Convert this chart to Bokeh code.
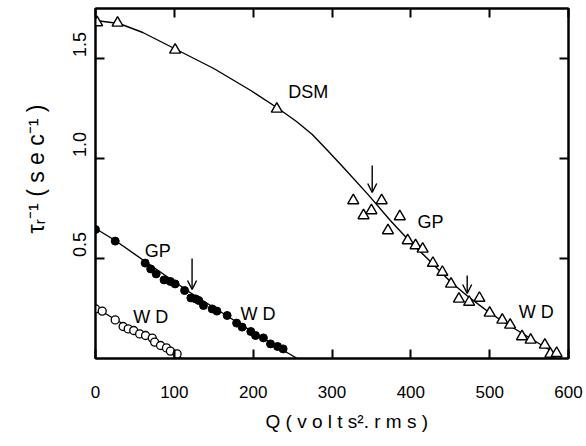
from bokeh.embed import file_html
from bokeh.models import (Arrow, CustomJSTickFormatter, FixedTicker, Label,
                          LinearAxis, OpenHead, Range1d, Title)
from bokeh.plotting import figure
from bokeh.resources import INLINE

FONT = "Liberation Sans"

# DSM regime, open triangles: Q (volts^2 rms) and relaxation rate (1/s)
dsm_q = [2, 28, 101, 230, 327, 340, 350, 363, 371, 386, 396, 406, 415, 428,
         440, 451, 461, 474, 487, 500, 516, 526, 541, 552, 570, 577, 585]
dsm_rate = [1.68, 1.678, 1.543, 1.248, 0.79, 0.715, 0.74, 0.79, 0.64, 0.71,
            0.59, 0.565, 0.548, 0.477, 0.432, 0.373, 0.298, 0.282, 0.302,
            0.228, 0.193, 0.168, 0.11, 0.093, 0.068, 0.023, 0.026]
dsm_fit_q = [0, 30, 60, 100, 150, 197, 230, 255, 275, 292, 311, 345, 374,
             400, 421, 450, 471, 500, 525, 550, 575, 592]
dsm_fit_rate = [1.69, 1.675, 1.63, 1.55, 1.45, 1.34, 1.255, 1.185, 1.12,
                1.05, 0.97, 0.823, 0.69, 0.58, 0.5, 0.385, 0.315, 0.228,
                0.165, 0.105, 0.045, 0.0]

# GP -> WD sequence, filled circles
gp_q = [0, 25, 63, 70, 77, 87, 95, 101, 113, 121, 127, 131, 137, 148, 154,
        167, 179, 186, 197, 203, 213, 222, 231, 238]
gp_rate = [0.645, 0.587, 0.477, 0.448, 0.423, 0.393, 0.385, 0.373, 0.34,
           0.303, 0.298, 0.29, 0.265, 0.248, 0.237, 0.215, 0.177, 0.157,
           0.135, 0.115, 0.103, 0.073, 0.06, 0.048]
gp_fit_q = [0, 25, 63, 120, 180, 230, 256]
gp_fit_rate = [0.65, 0.59, 0.485, 0.33, 0.18, 0.06, 0.0]

# WD only, open circles
wd_q = [0, 8.5, 25, 35, 41.5, 48.5, 56, 63.5, 72, 75, 82.5, 90, 95, 103.5]
wd_rate = [0.248, 0.237, 0.193, 0.16, 0.148, 0.14, 0.123, 0.115, 0.102,
           0.082, 0.065, 0.053, 0.037, 0.023]
wd_fit_q = [0, 25, 60, 90, 110]
wd_fit_rate = [0.255, 0.195, 0.12, 0.05, 0.0]

# regime transitions marked by arrows
arrow_q = [351, 471.5, 122.5]
arrow_from = [0.965, 0.415, 0.5]
arrow_to = [0.83, 0.325, 0.345]

# regime labels
regime_text = ["DSM", "GP", "W D", "GP", "W D", "W D"]
regime_q = [270, 425, 559, 79, 206, 70]
regime_rate = [1.333, 0.685, 0.233, 0.54, 0.222, 0.207]

x_ticks = [0, 100, 200, 300, 400, 500, 600]
y_ticks = [0.5, 1.0, 1.5]
y_tick_labels = ["0.5", "1.0", "1.5"]
# the rotated y labels sit just above their ticks
y_label_shift = 0.07

p = figure(width=586, height=446, output_backend="svg", toolbar_location=None,
           title=None,
           x_range=Range1d(0, 600), y_range=Range1d(0, 1.75),
           x_axis_location=None, y_axis_location=None,
           min_border_left=95, min_border_right=18,
           min_border_top=8, min_border_bottom=88)
p.grid.visible = False
p.outline_line_color = "black"
p.outline_line_width = 2
p.background_fill_color = "white"
p.border_fill_color = "white"

blank = CustomJSTickFormatter(code="return ''")


def frame_axis(ticks, labelled):
    ax = LinearAxis(ticker=FixedTicker(ticks=ticks))
    ax.major_tick_in = 9
    ax.major_tick_out = 0
    ax.major_tick_line_width = 2
    ax.minor_tick_line_color = None
    ax.axis_line_width = 2
    ax.axis_line_color = "black"
    if labelled:
        ax.major_label_text_font = FONT
        ax.major_label_text_font_size = "17px"
        ax.major_label_text_color = "black"
        ax.major_label_standoff = 27
    else:
        ax.formatter = blank
        ax.major_label_standoff = 0
    return ax


p.add_layout(frame_axis(x_ticks, True), "below")
p.add_layout(frame_axis(x_ticks, False), "above")
p.add_layout(frame_axis(y_ticks, False), "left")
p.add_layout(frame_axis(y_ticks, False), "right")

# rotated y tick labels, carried by a line-less axis beside the frame axis
label_pos = [v + y_label_shift for v in y_ticks]
y_lab_axis = LinearAxis(ticker=FixedTicker(ticks=label_pos))
y_lab_axis.major_label_overrides = dict(zip(label_pos, y_tick_labels))
y_lab_axis.axis_line_color = None
y_lab_axis.major_tick_line_color = None
y_lab_axis.minor_tick_line_color = None
y_lab_axis.major_tick_in = 0
y_lab_axis.major_tick_out = 0
y_lab_axis.major_label_orientation = "vertical"
y_lab_axis.major_label_standoff = 10
y_lab_axis.major_label_text_font = FONT
y_lab_axis.major_label_text_font_size = "18px"
y_lab_axis.major_label_text_color = "black"
p.add_layout(y_lab_axis, "left")

# axis titles
p.add_layout(Title(text="Q ( v o l t s². r m s )", align="left", offset=170,
                   standoff=17, text_font=FONT, text_font_size="19px",
                   text_font_style="normal", text_color="black"), "below")
p.add_layout(Title(text="τᵣ⁻¹ ( s e c⁻¹ )", align="left", offset=125,
                   standoff=41, text_font=FONT, text_font_size="23px",
                   text_font_style="normal", text_color="black"), "left")

# fitted curves
p.line(dsm_fit_q, dsm_fit_rate, line_color="black", line_width=1.4)
p.line(gp_fit_q, gp_fit_rate, line_color="black", line_width=1.4)
p.line(wd_fit_q, wd_fit_rate, line_color="black", line_width=1.4)

# measured points
p.scatter(dsm_q, dsm_rate, marker="triangle", size=11, fill_color="white",
          line_color="black", line_width=1.4)
p.scatter(gp_q, gp_rate, marker="circle", size=8, fill_color="black",
          line_color="black", line_width=1)
p.scatter(wd_q, wd_rate, marker="circle", size=8, fill_color="white",
          line_color="black", line_width=1.3)

for q, y0, y1 in zip(arrow_q, arrow_from, arrow_to):
    p.add_layout(Arrow(end=OpenHead(size=9, line_width=1.4, line_color="black"),
                       x_start=q, y_start=y0, x_end=q, y_end=y1,
                       line_color="black", line_width=1.4))

for t, q, r in zip(regime_text, regime_q, regime_rate):
    p.add_layout(Label(x=q, y=r, text=t, text_font=FONT, text_font_size="18px",
                       text_align="center", text_baseline="middle",
                       text_color="black"))

open("out.html", "w").write(file_html(p, INLINE))
